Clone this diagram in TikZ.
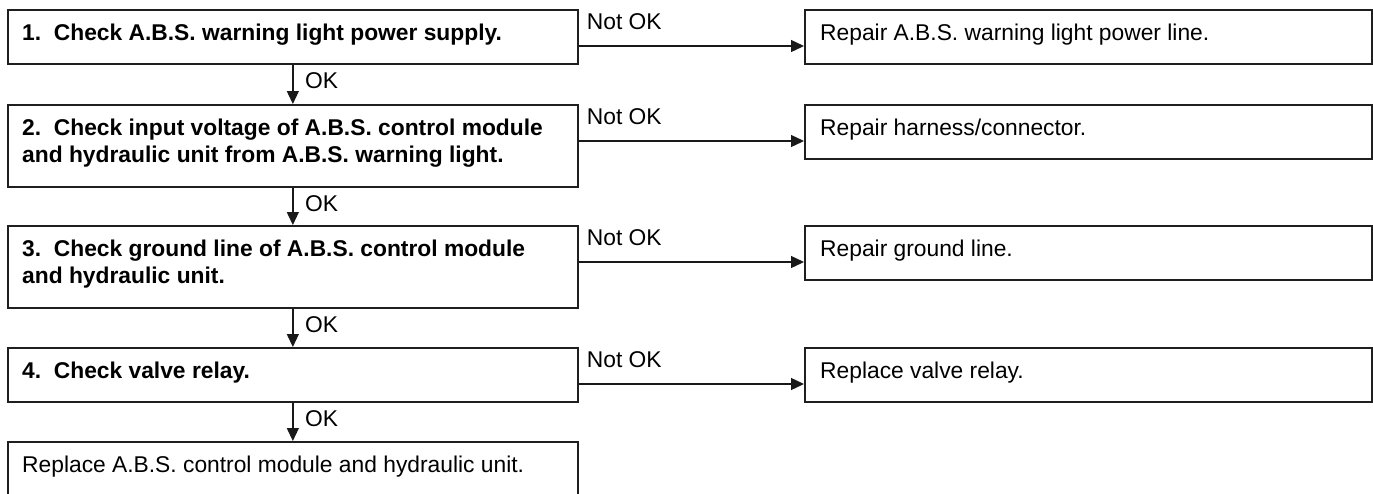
\documentclass[tikz,border=0pt]{standalone}
\usepackage{fontspec}
\setmainfont{Liberation Sans}
\usetikzlibrary{arrows.meta}
\begin{document}
\begin{tikzpicture}[x=1pt,y=-1pt,
  box/.style={draw=black!88, line width=1.7pt, rectangle, inner sep=0pt, anchor=north west, minimum width=570pt},
  rbox/.style={box, minimum width=567pt, minimum height=54pt},
  btxt/.style={anchor=base west, inner sep=0pt, font=\fontsize{22.8}{27.5}\selectfont\bfseries},
  ntxt/.style={anchor=base west, inner sep=0pt, font=\fontsize{22.8}{27.5}\selectfont},
  arr/.style={draw=black!90, line width=1.3pt, -{Triangle[length=13pt,width=12pt]}},
]
\useasboundingbox (0,0) rectangle (1373,493);
% left column
\node[box, minimum height=54pt] (b1) at (7,9) {};
\node[box, minimum height=82pt] (b2) at (7,104) {};
\node[box, minimum height=82pt] (b3) at (7,225) {};
\node[box, minimum height=54pt] (b4) at (7,347) {};
\node[box, minimum height=80pt] (b5) at (7,441) {};
\node[btxt] (t1) at ([xshift=15pt,yshift=-31pt]b1.north west) {1.\ \ Check A.B.S. warning light power supply.};
\node[btxt] (t2) at ([xshift=15pt,yshift=-31pt]b2.north west) {\parbox[t]{540pt}{2.\ \ Check input voltage of A.B.S. control module\\and hydraulic unit from A.B.S. warning light.}};
\node[btxt] (t3) at ([xshift=15pt,yshift=-31pt]b3.north west) {\parbox[t]{540pt}{3.\ \ Check ground line of A.B.S. control module\\and hydraulic unit.}};
\node[btxt] (t4) at ([xshift=15pt,yshift=-31pt]b4.north west) {4.\ \ Check valve relay.};
\node[ntxt] (t5) at ([xshift=15pt,yshift=-31pt]b5.north west) {Replace A.B.S. control module and hydraulic unit.};
% right column
\node[rbox] (r1) at (804,9) {};
\node[rbox] (r2) at (804,104) {};
\node[rbox] (r3) at (804,225) {};
\node[rbox] (r4) at (804,347) {};
\node[ntxt] (s1) at ([xshift=16pt,yshift=-31pt]r1.north west) {Repair A.B.S. warning light power line.};
\node[ntxt] (s2) at ([xshift=16pt,yshift=-31pt]r2.north west) {Repair harness/connector.};
\node[ntxt] (s3) at ([xshift=16pt,yshift=-31pt]r3.north west) {Repair ground line.};
\node[ntxt] (s4) at ([xshift=16pt,yshift=-31pt]r4.north west) {Replace valve relay.};
% OK arrows
\foreach \u/\v in {b1/b2,b2/b3,b3/b4,b4/b5}{
  \draw[arr] (\u.south) -- (\v.north);
  \node[ntxt] at ([xshift=12pt,yshift=-24pt]\u.south) {OK};
}
% Not OK arrows
\foreach \u/\v in {b1/r1,b2/r2,b3/r3,b4/r4}{
  \draw[arr] ([yshift=-37pt]\u.north east) -- ([yshift=-37pt]\u.north east -| \v.west);
  \node[ntxt] at ([xshift=8pt,yshift=-20pt]\u.north east) {Not OK};
}
\end{tikzpicture}
\end{document}
